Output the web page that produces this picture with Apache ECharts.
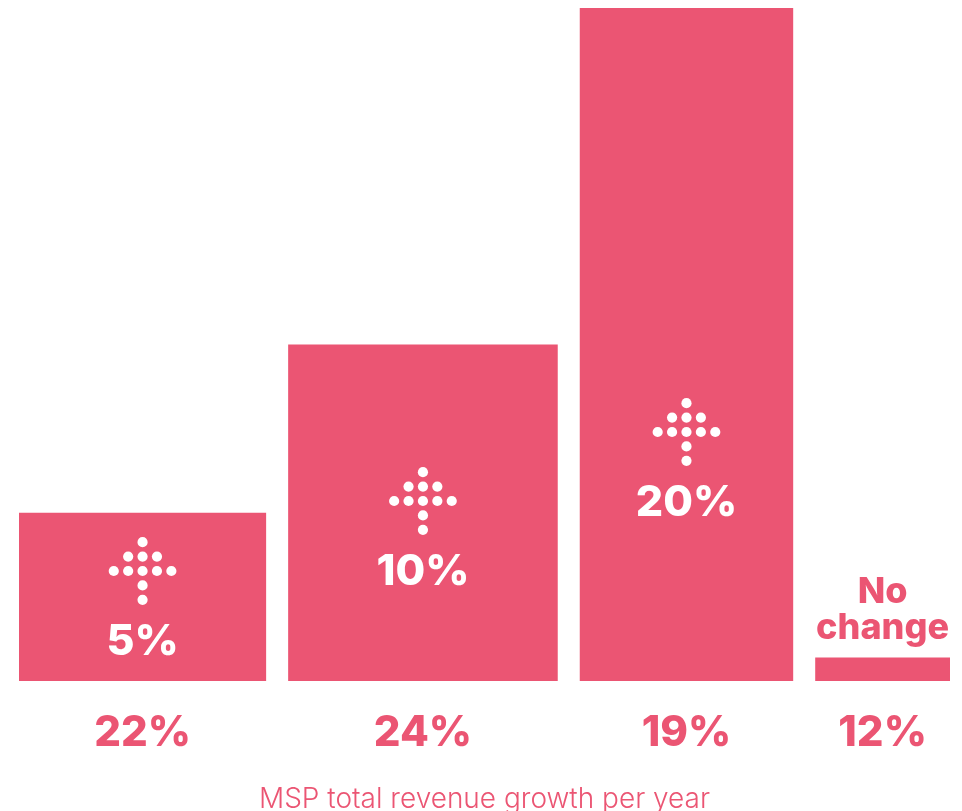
<!DOCTYPE html>
<html>
<head>
<meta charset="utf-8">
<style>html,body{margin:0;padding:0;background:#fff}#chart{width:962px;height:811px}</style>
<script src="https://cdn.jsdelivr.net/npm/echarts@6/dist/echarts.min.js"></script>
</head>
<body>
<div id="chart"></div>
<script>
// Share of MSPs in each group: sets the width of each column
const shares = [22, 24, 19, 12];
// Reported revenue growth: sets the height of each column
const growth = [5, 10, 20, 0.7];
const growthLabels = ['5%', '10%', '20%', 'No change'];
const axisTitle = 'MSP total revenue growth per year';

// Layout constants
const PINK = '#EB5573';
const GAP = 1.96;                    // space between columns, in share units
const BADGE_LIFT = [110, 180, 249];  // arrow centre above the baseline, px
const DOT_STEP = 14.4;
const DOT_R = 5.1;
const FONT = 'Inter';
// Rows of the dotted up-arrow, as grid offsets from its centre
const ARROW_DOTS = [
  [0, -2],
  [-1, -1], [0, -1], [1, -1],
  [-2, 0], [-1, 0], [0, 0], [1, 0], [2, 0],
  [0, 1],
  [0, 2]
];

const starts = [];
shares.reduce((x, s, i) => { starts[i] = x; return x + s + GAP; }, 0);
const xMax = starts[starts.length - 1] + shares[shares.length - 1];

function drawColumn(params, api) {
  const i = params.dataIndex;
  const p0 = api.coord([starts[i], 0]);
  const p1 = api.coord([starts[i] + shares[i], growth[i]]);
  const cx = (p0[0] + p1[0]) / 2;
  const children = [{
    type: 'rect',
    shape: { x: p0[0], y: p1[1], width: p1[0] - p0[0], height: p0[1] - p1[1] },
    style: { fill: PINK }
  }, {
    type: 'text',
    style: {
      x: cx, y: p0[1] + 52, text: shares[i] + '%', fill: PINK,
      font: '800 42px ' + FONT, textAlign: 'center', textVerticalAlign: 'middle'
    }
  }];
  if (i < BADGE_LIFT.length) {
    const cy = p0[1] - BADGE_LIFT[i];
    ARROW_DOTS.forEach(d => children.push({
      type: 'circle',
      shape: { cx: cx + d[0] * DOT_STEP, cy: cy + d[1] * DOT_STEP, r: DOT_R },
      style: { fill: '#fff' }
    }));
    children.push({
      type: 'text',
      style: {
        x: cx, y: cy + 71, text: growthLabels[i], fill: '#fff',
        font: '800 43px ' + FONT, textAlign: 'center', textVerticalAlign: 'middle'
      }
    });
  } else {
    growthLabels[i].split(' ').forEach((word, k) => children.push({
      type: 'text',
      style: {
        x: cx, y: p1[1] - 65 + k * 36, text: word, fill: PINK,
        font: '800 36px ' + FONT, textAlign: 'center', textVerticalAlign: 'middle'
      }
    }));
  }
  return { type: 'group', children };
}

const chart = echarts.init(document.getElementById('chart'), null, { renderer: 'canvas' });
chart.setOption({
  animation: false,
  backgroundColor: '#fff',
  grid: { left: 19, right: 12, top: 8, bottom: 130, outerBoundsMode: 'none' },
  xAxis: {
    type: 'value', min: 0, max: xMax,
    axisLine: { show: false }, axisTick: { show: false },
    axisLabel: { show: false }, splitLine: { show: false },
    name: axisTitle, nameLocation: 'middle', nameGap: 105,
    nameTextStyle: { color: PINK, fontFamily: FONT, fontWeight: 300, fontSize: 28 }
  },
  yAxis: {
    type: 'value', min: 0, max: 20,
    axisLine: { show: false }, axisTick: { show: false },
    axisLabel: { show: false }, splitLine: { show: false }
  },
  series: [{
    type: 'custom',
    clip: false,
    renderItem: drawColumn,
    data: shares.map((s, i) => [starts[i], s, growth[i]])
  }]
});
</script>
</body>
</html>
